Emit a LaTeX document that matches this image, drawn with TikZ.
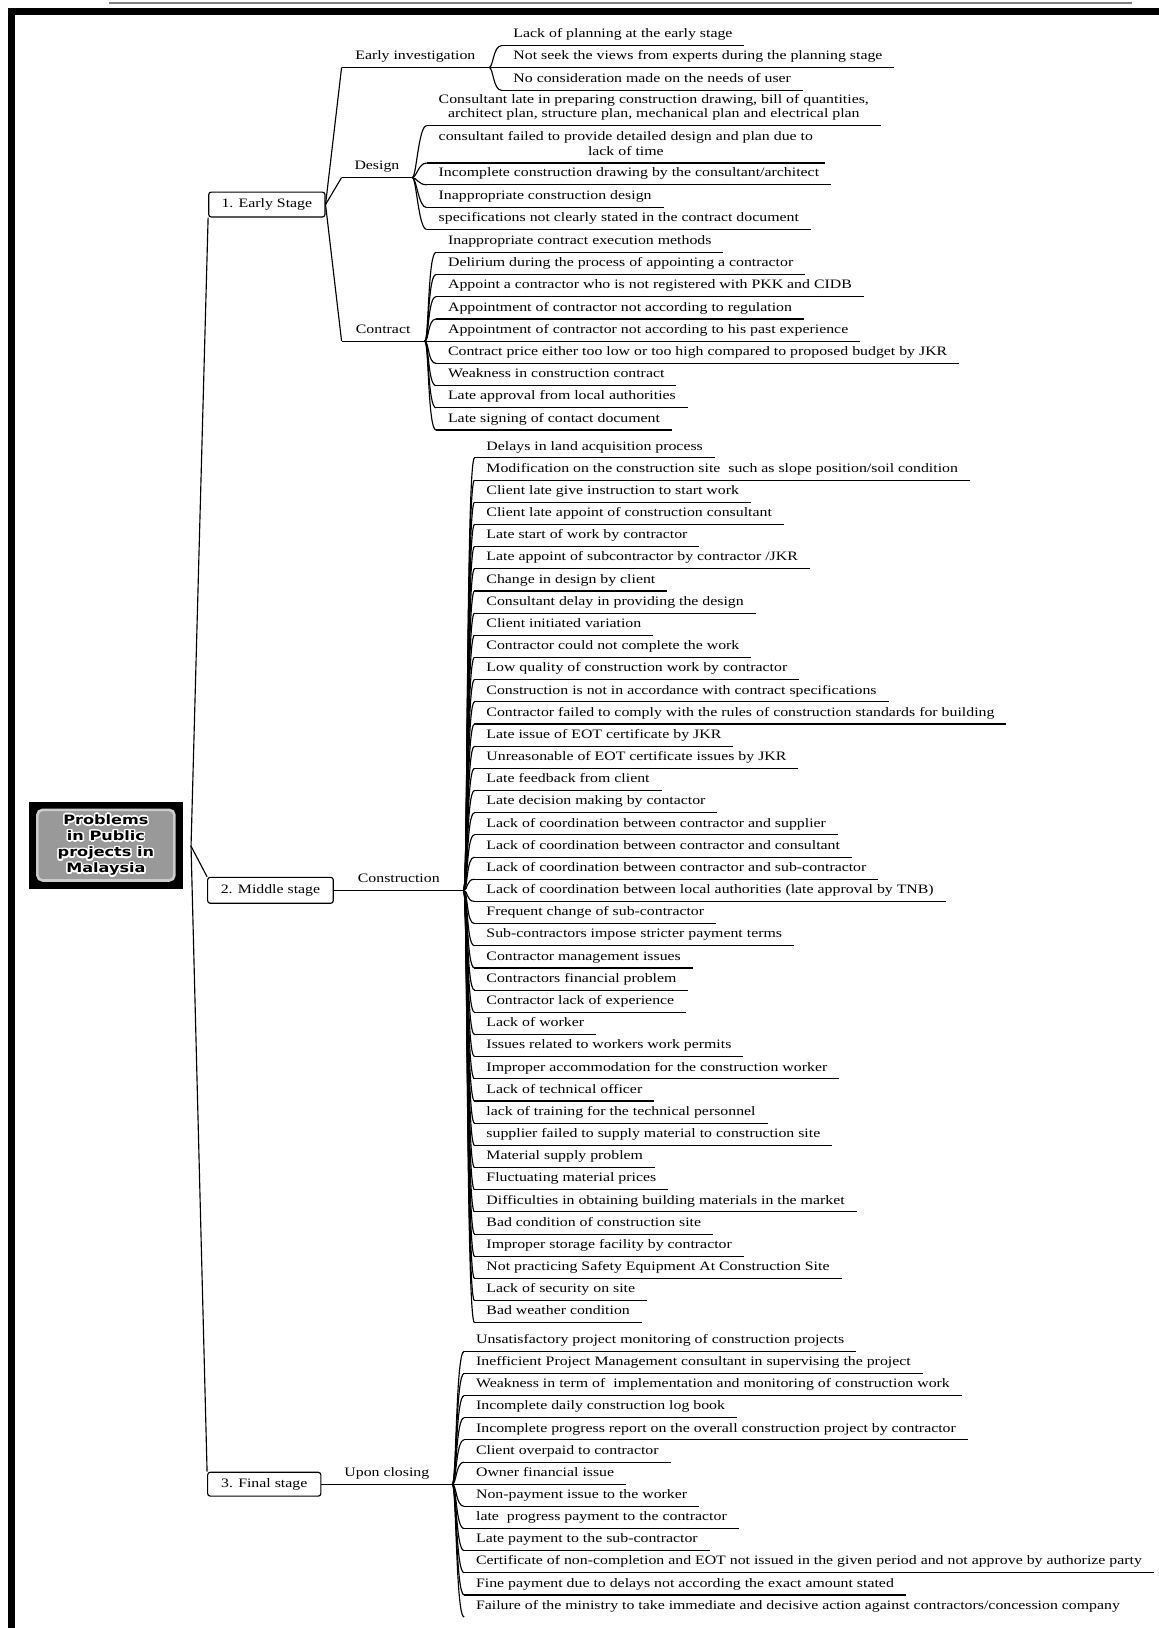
\documentclass[tikz,border=0pt]{standalone}
\usepackage{fontspec}
\setmainfont{Liberation Serif}[FakeStretch=1.23]
\newfontfamily\hubfont{DejaVu Sans}[FakeStretch=1.25]
\newcommand{\leaffont}{\fontsize{12.4}{14}\selectfont}
\newcommand{\hubtextfont}{\hubfont\bfseries\fontsize{12.4}{15.5}\selectfont}
\tikzset{
  leaf/.style={anchor=south west, inner xsep=11pt, inner ysep=3pt, text depth=4pt, font=\leaffont,
    append after command={(\tikzlastnode.south west) edge (\tikzlastnode.south east)}},
  bare/.style={anchor=south west, inner xsep=11pt, inner ysep=3pt, text depth=4pt, font=\leaffont},
  branch/.style={leaf, inner xsep=0pt, align=center},
  stagebox/.style={draw, rounded corners=2.5pt, font=\leaffont, inner sep=0pt},
  hub/.style={fill=black, minimum width=148pt, minimum height=84pt, inner sep=0pt,
    path picture={\draw[gray!40, line width=2.5pt, fill=gray!80!white, rounded corners=5pt]
      ([shift={(8pt,-8pt)}]path picture bounding box.north west) rectangle
      ([shift={(-8pt,8pt)}]path picture bounding box.south east);}},
  hubtext/.style={font=\hubtextfont, align=center, inner sep=0pt},
  fanline/.style={to path={.. controls +(4,0) and +(-8,0) .. (\tikztotarget)}}
}
\begin{document}
\begin{tikzpicture}[x=1pt, y=-1pt, line width=1.1pt]
    \useasboundingbox (0,0) rectangle (1116,1568);
    % frame
    \draw[gray, line width=1.3pt] (105,3) -- (1090,3);
    \fill (8,8) rectangle (1116,14.5);
    \fill (8,8) rectangle (14.5,1568);
    % centre
    \node[hub] (hub) at (102,814) {};
    \foreach \a [count=\i] in {0,30,...,330}
        \node[hubtext, text=white, shift={(\a:1.5pt)}] (glow\i) at (hub) {Problems\\in Public\\projects in\\Malaysia};
    \node[hubtext] (title) at (hub) {Problems\\in Public\\projects in\\Malaysia};
    \coordinate (root) at (184,815);
    % stages
    \node[stagebox, minimum width=112pt, minimum height=24pt] (s1) at (257,197) {1. Early Stage};
    \node[stagebox, minimum width=121pt, minimum height=25pt] (s2) at (260.5,857.5) {2. Middle stage};
    \node[stagebox, minimum width=109pt, minimum height=23pt] (s3) at (254.5,1429.5) {3. Final stage};
    \draw (root) -- (s1.south west);
    \draw (root) -- (s2.north west);
    \draw (root) -- (s3.north west);
    % second level
    \node[branch, minimum width=141pt] (ei) at (329,65) {Early investigation};
    \node[branch, minimum width=67pt] (des) at (329,171) {Design};
    \node[branch, minimum width=79pt] (con) at (329,328.6) {Contract};
    \node[branch, minimum width=124pt] (cons) at (s2.east) {Construction};
    \node[branch, minimum width=125pt] (upc) at (s3.east) {Upon closing};
    \draw (s1.east) -- (ei.south west);
    \draw (s1.east) -- (des.south west);
    \draw (s1.east) -- (con.south west);
    % early investigation
    \node[leaf] (ei1) at (483,44) {Lack of planning at the early stage};
    \node[leaf] (ei2) at (483,65) {Not seek the views from experts during the planning stage};
    \node[leaf] (ei3) at (483,87) {No consideration made on the needs of user};
    % design
    \node[leaf, align=center] (d1) at (411,121) {Consultant late in preparing construction drawing, bill of quantities,\\architect plan, structure plan, mechanical plan and electrical plan};
    \node[leaf, align=center] (d2) at (411,157) {consultant failed to provide detailed design and plan due to\\lack of time};
    \node[leaf] (d3) at (411,178) {Incomplete construction drawing by the consultant/architect};
    \node[leaf] (d4) at (411,200) {Inappropriate construction design};
    \node[leaf] (d5) at (411,221) {specifications not clearly stated in the contract document};
    % contract
    \node[leaf] (k1) at (420,243) {Inappropriate contract execution methods};
    \node[leaf] (k2) at (420,264.4) {Delirium during the process of appointing a contractor};
    \node[leaf] (k3) at (420,285.8) {Appoint a contractor who is not registered with PKK and CIDB};
    \node[leaf] (k4) at (420,307.2) {Appointment of contractor not according to regulation};
    \node[leaf] (k5) at (420,328.6) {Appointment of contractor not according to his past experience};
    \node[leaf] (k6) at (420,350) {Contract price either too low or too high compared to proposed budget by JKR};
    \node[leaf] (k7) at (420,371.4) {Weakness in construction contract};
    \node[leaf] (k8) at (420,392.8) {Late approval from local authorities};
    \node[leaf] (k9) at (420,414.2) {Late signing of contact document};
    % construction
    \node[leaf] (c1) at (457,441.0) {Delays in land acquisition process};
    \node[leaf] (c2) at (457,462.4) {Modification on the construction site~ such as slope position/soil condition};
    \node[leaf] (c3) at (457,483.7) {Client late give instruction to start work};
    \node[leaf] (c4) at (457,505.1) {Client late appoint of construction consultant};
    \node[leaf] (c5) at (457,526.4) {Late start of work by contractor};
    \node[leaf] (c6) at (457,547.8) {Late appoint of subcontractor by contractor /JKR};
    \node[leaf] (c7) at (457,569.2) {Change in design by client};
    \node[leaf] (c8) at (457,590.5) {Consultant delay in providing the design};
    \node[leaf] (c9) at (457,611.9) {Client initiated variation};
    \node[leaf] (c10) at (457,633.2) {Contractor could not complete the work};
    \node[leaf] (c11) at (457,654.6) {Low quality of construction work by contractor};
    \node[leaf] (c12) at (457,676.0) {Construction is not in accordance with contract specifications};
    \node[leaf] (c13) at (457,697.3) {Contractor failed to comply with the rules of construction standards for building};
    \node[leaf] (c14) at (457,718.7) {Late issue of EOT certificate by JKR};
    \node[leaf] (c15) at (457,740.0) {Unreasonable of EOT certificate issues by JKR};
    \node[leaf] (c16) at (457,761.4) {Late feedback from client};
    \node[leaf] (c17) at (457,782.8) {Late decision making by contactor};
    \node[leaf] (c18) at (457,804.1) {Lack of coordination between contractor and supplier};
    \node[leaf] (c19) at (457,825.5) {Lack of coordination between contractor and consultant};
    \node[leaf] (c20) at (457,846.8) {Lack of coordination between contractor and sub-contractor};
    \node[leaf] (c21) at (457,868.2) {Lack of coordination between local authorities (late approval by TNB)};
    \node[leaf] (c22) at (457,889.6) {Frequent change of sub-contractor};
    \node[leaf] (c23) at (457,910.9) {Sub-contractors impose stricter payment terms};
    \node[leaf] (c24) at (457,932.3) {Contractor management issues};
    \node[leaf] (c25) at (457,953.6) {Contractors financial problem};
    \node[leaf] (c26) at (457,975.0) {Contractor lack of experience};
    \node[leaf] (c27) at (457,996.4) {Lack of worker};
    \node[leaf] (c28) at (457,1017.7) {Issues related to workers work permits};
    \node[leaf] (c29) at (457,1039.1) {Improper accommodation for the construction worker};
    \node[leaf] (c30) at (457,1060.4) {Lack of technical officer};
    \node[leaf] (c31) at (457,1081.8) {lack of training for the technical personnel};
    \node[leaf] (c32) at (457,1103.2) {supplier failed to supply material to construction site};
    \node[leaf] (c33) at (457,1124.5) {Material supply problem};
    \node[leaf] (c34) at (457,1145.9) {Fluctuating material prices};
    \node[leaf] (c35) at (457,1167.2) {Difficulties in obtaining building materials in the market};
    \node[leaf] (c36) at (457,1188.6) {Bad condition of construction site};
    \node[leaf] (c37) at (457,1210.0) {Improper storage facility by contractor};
    \node[leaf] (c38) at (457,1231.3) {Not practicing Safety Equipment At Construction Site};
    \node[leaf] (c39) at (457,1252.7) {Lack of security on site};
    \node[leaf] (c40) at (457,1274.0) {Bad weather condition};
    % upon closing
    \node[leaf] (u1) at (447,1301.5) {Unsatisfactory project monitoring of construction projects};
    \node[leaf] (u2) at (447,1322.8) {Inefficient Project Management consultant in supervising the project};
    \node[leaf] (u3) at (447,1344.2) {Weakness in term of~ implementation and monitoring of construction work};
    \node[leaf] (u4) at (447,1365.5) {Incomplete daily construction log book};
    \node[leaf] (u5) at (447,1386.8) {Incomplete progress report on the overall construction project by contractor};
    \node[leaf] (u6) at (447,1408.2) {Client overpaid to contractor};
    \node[leaf] (u7) at (447,1429.5) {Owner financial issue};
    \node[leaf] (u8) at (447,1450.8) {Non-payment issue to the worker};
    \node[leaf] (u9) at (447,1472.2) {late~ progress payment to the contractor};
    \node[leaf] (u10) at (447,1493.5) {Late payment to the sub-contractor};
    \node[leaf] (u11) at (447,1514.8) {Certificate of non-completion and EOT not issued in the given period and not approve by authorize party};
    \node[leaf] (u12) at (447,1536.2) {Fine payment due to delays not according the exact amount stated};
    \node[bare] (u13) at (447,1557.5) {Failure of the ministry to take immediate and decisive action against contractors/concession company};
    \begin{scope}[every edge/.style={draw, fanline}]
    \path (ei.south east) edge (ei1.south west);
    \path (ei.south east) edge (ei2.south west);
    \path (ei.south east) edge (ei3.south west);
    \path (des.south east) edge (d1.south west);
    \path (des.south east) edge (d2.south west);
    \path (des.south east) edge (d3.south west);
    \path (des.south east) edge (d4.south west);
    \path (des.south east) edge (d5.south west);
    \path (con.south east) edge (k1.south west);
    \path (con.south east) edge (k2.south west);
    \path (con.south east) edge (k3.south west);
    \path (con.south east) edge (k4.south west);
    \path (con.south east) edge (k5.south west);
    \path (con.south east) edge (k6.south west);
    \path (con.south east) edge (k7.south west);
    \path (con.south east) edge (k8.south west);
    \path (con.south east) edge (k9.south west);
    \path (cons.south east) edge (c1.south west);
    \path (cons.south east) edge (c2.south west);
    \path (cons.south east) edge (c3.south west);
    \path (cons.south east) edge (c4.south west);
    \path (cons.south east) edge (c5.south west);
    \path (cons.south east) edge (c6.south west);
    \path (cons.south east) edge (c7.south west);
    \path (cons.south east) edge (c8.south west);
    \path (cons.south east) edge (c9.south west);
    \path (cons.south east) edge (c10.south west);
    \path (cons.south east) edge (c11.south west);
    \path (cons.south east) edge (c12.south west);
    \path (cons.south east) edge (c13.south west);
    \path (cons.south east) edge (c14.south west);
    \path (cons.south east) edge (c15.south west);
    \path (cons.south east) edge (c16.south west);
    \path (cons.south east) edge (c17.south west);
    \path (cons.south east) edge (c18.south west);
    \path (cons.south east) edge (c19.south west);
    \path (cons.south east) edge (c20.south west);
    \path (cons.south east) edge (c21.south west);
    \path (cons.south east) edge (c22.south west);
    \path (cons.south east) edge (c23.south west);
    \path (cons.south east) edge (c24.south west);
    \path (cons.south east) edge (c25.south west);
    \path (cons.south east) edge (c26.south west);
    \path (cons.south east) edge (c27.south west);
    \path (cons.south east) edge (c28.south west);
    \path (cons.south east) edge (c29.south west);
    \path (cons.south east) edge (c30.south west);
    \path (cons.south east) edge (c31.south west);
    \path (cons.south east) edge (c32.south west);
    \path (cons.south east) edge (c33.south west);
    \path (cons.south east) edge (c34.south west);
    \path (cons.south east) edge (c35.south west);
    \path (cons.south east) edge (c36.south west);
    \path (cons.south east) edge (c37.south west);
    \path (cons.south east) edge (c38.south west);
    \path (cons.south east) edge (c39.south west);
    \path (cons.south east) edge (c40.south west);
    \path (upc.south east) edge (u1.south west);
    \path (upc.south east) edge (u2.south west);
    \path (upc.south east) edge (u3.south west);
    \path (upc.south east) edge (u4.south west);
    \path (upc.south east) edge (u5.south west);
    \path (upc.south east) edge (u6.south west);
    \path (upc.south east) edge (u7.south west);
    \path (upc.south east) edge (u8.south west);
    \path (upc.south east) edge (u9.south west);
    \path (upc.south east) edge (u10.south west);
    \path (upc.south east) edge (u11.south west);
    \path (upc.south east) edge (u12.south west);
    \path (upc.south east) edge (u13.south west);
    \end{scope}
\end{tikzpicture}
\end{document}
